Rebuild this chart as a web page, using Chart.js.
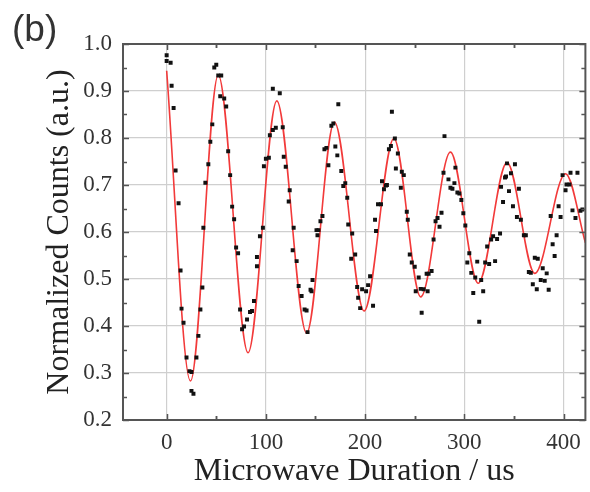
<!DOCTYPE html>
<html>
<head>
<meta charset="utf-8">
<script src="https://cdn.jsdelivr.net/npm/chart.js@4"></script>
<style>
html,body{margin:0;padding:0;background:#fff;}
canvas{display:block;}
</style>
</head>
<body>
<canvas id="c" width="590" height="492"></canvas>
<script>
// ---- data ----
const panelLabel = "(b)";
const xTitle = "Microwave Duration / us";
const yTitle = "Normalized Counts (a.u.)";
const xTicks = [0, 100, 200, 300, 400];
const yTicks = [0.2, 0.3, 0.4, 0.5, 0.6, 0.7, 0.8, 0.9, 1.0];

// measured points (microwave duration, normalized counts)
const pointsX = [
  0, 0, 4, 5, 7, 9, 12, 14, 15, 17, 20, 23, 25, 25, 27, 30, 32, 34, 36, 37,
  39, 42, 44, 46, 48, 50, 52, 55, 54, 58, 60, 62, 64, 66, 68, 70, 72, 74, 76, 78,
  81, 84, 86, 88, 91, 91, 94, 97, 98, 100, 103, 104, 107, 110, 107, 114, 117, 118, 120, 123,
  124, 127, 128, 131, 133, 136, 139, 141, 142, 145, 146, 147, 151, 153, 152, 155, 157, 159, 161, 163,
  166, 168, 170, 172, 173, 176, 178, 180, 182, 183, 187, 186, 190, 192, 193, 195, 197, 201, 203, 205,
  208, 210, 211, 213, 216, 217, 219, 221, 222, 224, 226, 227, 230, 231, 233, 237, 239, 236, 242, 243,
  245, 247, 250, 251, 254, 256, 257, 259, 262, 264, 263, 267, 269, 271, 273, 275, 277, 279, 280, 284,
  286, 288, 290, 291, 293, 295, 297, 299, 301, 303, 305, 307, 309, 311, 313, 315, 317, 319, 321, 323,
  325, 327, 329, 331, 333, 336, 337, 339, 341, 342, 343, 345, 347, 349, 351, 353, 355, 357, 360, 362,
  365, 367, 369, 371, 374, 373, 377, 379, 381, 383, 385, 387, 389, 391, 393, 395, 397, 399, 402, 403,
  406, 407, 409, 412, 414, 417, 419
];
const pointsY = [
  0.976, 0.964, 0.960, 0.911, 0.864, 0.731, 0.661, 0.518, 0.437, 0.407, 0.333, 0.304, 0.302, 0.262, 0.256, 0.333, 0.379, 0.435, 0.482, 0.609,
  0.705, 0.744, 0.792, 0.829, 0.950, 0.956, 0.933, 0.933, 0.889, 0.884, 0.867, 0.772, 0.721, 0.654, 0.627, 0.567, 0.555, 0.435, 0.393, 0.399,
  0.414, 0.430, 0.432, 0.453, 0.547, 0.527, 0.591, 0.609, 0.740, 0.756, 0.758, 0.806, 0.817, 0.822, 0.905, 0.895, 0.823, 0.760, 0.739, 0.665,
  0.689, 0.561, 0.609, 0.538, 0.485, 0.464, 0.435, 0.433, 0.387, 0.477, 0.474, 0.498, 0.604, 0.604, 0.593, 0.623, 0.634, 0.776, 0.779, 0.742,
  0.826, 0.831, 0.782, 0.763, 0.872, 0.730, 0.698, 0.704, 0.673, 0.616, 0.597, 0.543, 0.552, 0.483, 0.460, 0.438, 0.478, 0.474, 0.487, 0.506,
  0.443, 0.626, 0.602, 0.659, 0.659, 0.708, 0.691, 0.699, 0.700, 0.776, 0.783, 0.856, 0.799, 0.735, 0.767, 0.728, 0.721, 0.694, 0.643, 0.626,
  0.552, 0.535, 0.526, 0.474, 0.503, 0.479, 0.428, 0.478, 0.511, 0.511, 0.474, 0.517, 0.584, 0.623, 0.630, 0.611, 0.641, 0.726, 0.804, 0.712,
  0.694, 0.692, 0.704, 0.737, 0.684, 0.682, 0.668, 0.640, 0.614, 0.535, 0.555, 0.513, 0.470, 0.503, 0.537, 0.409, 0.498, 0.474, 0.535, 0.569,
  0.532, 0.584, 0.591, 0.538, 0.585, 0.597, 0.696, 0.664, 0.716, 0.718, 0.746, 0.687, 0.725, 0.655, 0.744, 0.632, 0.692, 0.626, 0.593, 0.593,
  0.515, 0.513, 0.489, 0.545, 0.543, 0.478, 0.498, 0.523, 0.496, 0.512, 0.477, 0.634, 0.574, 0.549, 0.593, 0.655, 0.632, 0.721, 0.689, 0.701,
  0.701, 0.726, 0.646, 0.630, 0.726, 0.645, 0.648
];

// fitted curve: start, alternating troughs / peaks, end
const fitX = [0, 24, 52, 82, 111, 141, 169, 199, 229, 256, 286, 314, 343, 371, 402, 422];
const fitY = [0.943, 0.283, 0.934, 0.343, 0.879, 0.385, 0.834, 0.432, 0.799, 0.462, 0.770, 0.491, 0.748, 0.512, 0.724, 0.577];

// ---- chart ----
const serif = "'Liberation Serif', 'Times New Roman', serif";

const framePlugin = {
  id: 'frame',
  afterDraw(chart) {
    const ctx = chart.ctx;
    const a = chart.chartArea;
    const xs = chart.scales.x, ys = chart.scales.y;
    ctx.save();
    ctx.strokeStyle = '#555';
    ctx.lineWidth = 1.5;
    const seg = (x1, y1, x2, y2) => { ctx.beginPath(); ctx.moveTo(x1, y1); ctx.lineTo(x2, y2); ctx.stroke(); };
    const xTick = (v, len) => {
      if (v < xs.min || v > xs.max) return;
      const p = Math.round(xs.getPixelForValue(v)) + 0.5;
      seg(p, a.bottom, p, a.bottom - len);
      seg(p, a.top, p, a.top + len);
    };
    const yTick = (v, len) => {
      if (v < ys.min || v > ys.max) return;
      const p = Math.round(ys.getPixelForValue(v)) + 0.5;
      seg(a.left, p, a.left + len, p);
      seg(a.right, p, a.right - len, p);
    };
    const xStep = xTicks[1] - xTicks[0];
    xTicks.forEach(v => { xTick(v, 6); xTick(v + xStep / 2, 4); xTick(v - xStep / 2, 4); });
    const yStep = yTicks[1] - yTicks[0];
    yTicks.forEach(v => { yTick(v, 6); yTick(v + yStep / 2, 4); });
    ctx.lineWidth = 2;
    ctx.strokeStyle = '#555';
    ctx.strokeRect(a.left, a.top, a.right - a.left, a.bottom - a.top);
    // panel label
    ctx.fillStyle = '#333';
    ctx.font = "37px 'Liberation Sans', Arial, sans-serif";
    ctx.textBaseline = 'alphabetic';
    ctx.textAlign = 'left';
    ctx.fillText(panelLabel, 12, 41);
    ctx.restore();
  }
};

new Chart(document.getElementById('c'), {
  type: 'scatter',
  data: {
    datasets: [
      {
        label: 'data',
        data: pointsX.map((x, i) => ({ x: x, y: pointsY[i] })),
        pointStyle: 'rect',
        pointRadius: 2.8,
        backgroundColor: '#111',
        borderColor: '#111',
        borderWidth: 0,
        order: 0
      },
      {
        label: 'fit',
        data: fitX.map((x, i) => ({ x: x, y: fitY[i] })),
        showLine: true,
        pointRadius: 0,
        borderColor: '#f23a3a',
        borderWidth: 1.6,
        cubicInterpolationMode: 'monotone',
        fill: false,
        order: 1
      }
    ]
  },
  options: {
    responsive: false,
    animation: false,
    layout: { padding: { top: 44, right: 2, left: 0, bottom: 0 } },
    plugins: { legend: { display: false }, tooltip: { enabled: false } },
    scales: {
      x: {
        type: 'linear',
        min: -44, max: 422,
        afterBuildTicks: s => { s.ticks = xTicks.map(v => ({ value: v })); },
        afterFit: s => { s.height = 72; },
        grid: { color: '#cfcfcf', lineWidth: 1.2, drawTicks: false },
        border: { display: false },
        ticks: { font: { family: serif, size: 23 }, color: '#333', padding: 9, maxRotation: 0 },
        title: { display: true, text: xTitle, font: { family: serif, size: 32 }, color: '#222', padding: { top: 0, bottom: 1 } }
      },
      y: {
        type: 'linear',
        min: 0.2, max: 1.0,
        afterBuildTicks: s => { s.ticks = yTicks.map(v => ({ value: v })); },
        afterFit: s => { s.width = 123; },
        grid: { color: '#cfcfcf', lineWidth: 1.2, drawTicks: false },
        border: { display: false },
        ticks: { font: { family: serif, size: 23 }, color: '#333', padding: 11, callback: v => Number(v).toFixed(1) },
        title: { display: true, text: yTitle, font: { family: serif, size: 32 }, color: '#222', padding: { top: 40, bottom: 0 } }
      }
    }
  },
  plugins: [framePlugin]
});
</script>
</body>
</html>
